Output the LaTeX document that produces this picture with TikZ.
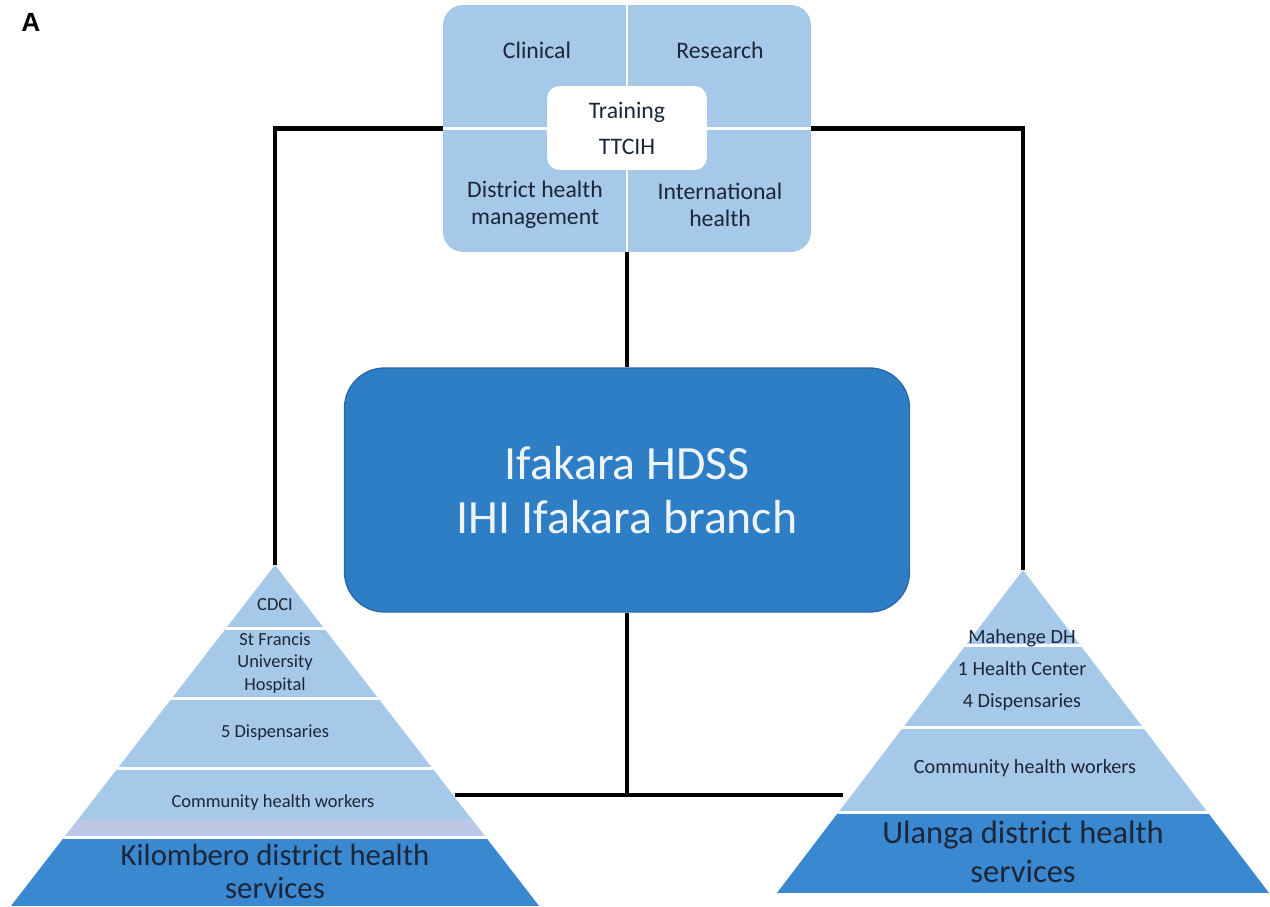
\documentclass[tikz,border=0pt]{standalone}
\usepackage{fontspec}
\setmainfont{Carlito}
\newfontfamily\panelfont{Liberation Sans}
\definecolor{paleblue}{HTML}{A6C8E9}
\definecolor{boxblue}{HTML}{2E7EC6}
\definecolor{baseblue}{HTML}{3A88D0}
\definecolor{greyband}{HTML}{BCC8E6}
\definecolor{inktext}{HTML}{1B2638}
\definecolor{edgeblue}{HTML}{2968A8}
\tikzset{
    link/.style={line width=2.8pt}, % black connectors
    sep/.style={white, line width=1.7pt}, % white band lines
    quad/.style={text=inktext, align=center, font=\fontsize{13.5}{15.5}\selectfont},
    tier/.style={text=inktext, align=center, font=\fontsize{10.5}{12.8}\selectfont},
    basetext/.style={text=inktext, align=center, font=\fontsize{17.5}{18.7}\selectfont}
}

\begin{document}
\begin{tikzpicture}[x=0.02cm, y=-0.02cm]
    \useasboundingbox (0,0) rectangle (1270,906);

    \coordinate (kapex) at (275,565);
    \coordinate (uapex) at (1023,570);
    \coordinate (kjoin) at (455,795);
    \coordinate (ujoin) at (843,795);

    % top box and main box
    \node[fill=paleblue, rounded corners=0.4cm, minimum width=7.36cm, minimum height=4.94cm] (top) at (627,128.5) {};
    \node[fill=boxblue, draw=edgeblue, line width=0.8pt, rounded corners=0.8cm, minimum width=11.3cm, minimum height=4.88cm,
          text=white!92!boxblue, align=center, font=\fontsize{27.2}{31}\selectfont] (hdss) at (627,490) {Ifakara HDSS\\IHI Ifakara branch};

    \draw[link] (top.west) -| (kapex);
    \draw[link] (top.east) -| (uapex);
    \draw[link] (top.south) -- (hdss.north);
    \draw[link] (hdss.south) -- (hdss.south |- kjoin);
    \draw[link] (kjoin) -- (ujoin);

    \draw[white, line width=1.2pt] (top.north) -- (top.south);
    \draw[white, line width=1.2pt] (top.west) -- (top.east);
    \node[quad] (clinical) at (537,50) {Clinical};
    \node[quad] (research) at (720,50) {Research};
    \node[quad] (dhm) at (535,205) {District health\\management};
    \node[quad] (intl) at (720,205) {International\\health};
    \node[fill=white, rounded corners=0.25cm, minimum width=3.2cm, minimum height=1.68cm, quad] (train) at (627,128) {Training\\[5pt]TTCIH};

    % Kilombero pyramid
    \begin{scope}
        \clip (kapex) -- (11,906) -- (539,906) -- cycle;
        \fill[paleblue] (0,560) rectangle (560,906);
        \fill[greyband] (0,820) rectangle (560,837);
        \fill[baseblue] (0,837) rectangle (560,906);
        \foreach \y in {628,698,768,837} {\draw[sep] (0,\y) -- (560,\y);}
    \end{scope}
    \node[tier] (cdci) at (275,605) {CDCI};
    \node[tier] (sfuh) at (275,663) {St Francis\\University\\Hospital};
    \node[tier] (kdisp) at (275,733) {5 Dispensaries};
    \node[tier] (kchw) at (273,803) {Community health workers};
    \node[basetext] (kdhs) at (275,871) {Kilombero district health\\services};

    % Ulanga pyramid
    \begin{scope}
        \clip (uapex) -- (777,893) -- (1269,893) -- cycle;
        \fill[paleblue] (760,560) rectangle (1270,893);
        \fill[baseblue] (760,812) rectangle (1270,893);
        \foreach \y in {645,727,812} {\draw[sep] (760,\y) -- (1270,\y);}
    \end{scope}
    \node[tier, font=\fontsize{11.5}{18}\selectfont] (mdh) at (1022,670) {Mahenge DH\\1 Health Center\\4 Dispensaries};
    \node[tier, font=\fontsize{11.5}{13}\selectfont] (uchw) at (1025,768) {Community health workers};
    \node[basetext, font=\fontsize{18.5}{22}\selectfont] (udhs) at (1023,852) {Ulanga district health\\services};

    \node[font=\panelfont\bfseries\fontsize{15}{18}\selectfont] (panel) at (31,22) {A};
\end{tikzpicture}
\end{document}
